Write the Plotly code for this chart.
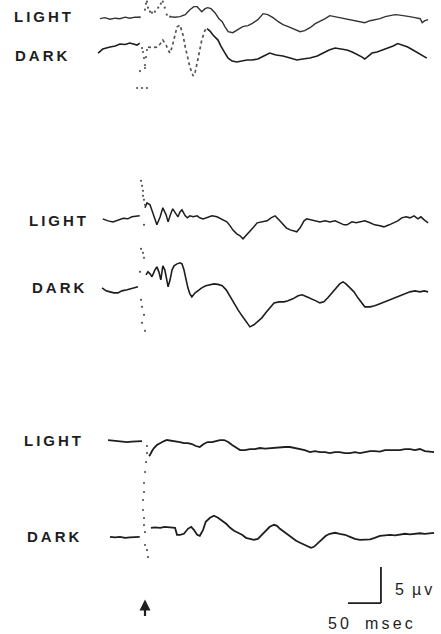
import plotly.graph_objects as go

# ---------------- DATA (time in msec from stimulus, amplitude in µV from baseline) ----------------
TOP_LIGHT_T = [-68, -61, -53, -45, -38, -30, -23, -15, -8,
               38, 45, 53, 61, 68, 74, 79, 83, 86, 91, 95, 100, 106, 112, 117, 121, 126, 133, 141, 148,
               156, 162, 171, 179, 186, 194, 202, 209, 217, 224, 235, 242, 250, 258, 265, 273, 280, 288,
               295, 303, 311, 318, 326, 333, 341, 348, 356, 364, 371, 379, 386, 394, 401, 409, 417, 420,
               424, 429]
TOP_LIGHT_UV = [-0.14, 0.0, -0.21, -0.07, -0.14, 0.07, -0.07, 0.07, 0.07,
                0.14, 0.07, 0.14, 0.42, 1.11, 1.53, 1.53, 1.11, 0.83, 1.25, 1.39, 1.25, 0.69, -0.14, -0.56,
                -1.25, -1.94, -2.08, -1.67, -1.25, -1.11, -0.83, -0.28, 0.56, 0.42, 0.0, -0.56, -0.97,
                -1.25, -1.53, -1.94, -1.81, -1.39, -0.83, -0.56, -0.14, 0.28, 0.14, 0.0, -0.14, -0.28,
                -0.42, -0.56, -0.69, -0.42, -0.28, -0.14, 0.14, 0.28, 0.42, 0.35, 0.28, 0.14, 0.0, -0.14,
                -0.69, -0.42, -0.28]
TOP_LIGHT_ART_T = [-8, 0, 1.5, 3, 4.5, 7.6, 10.6, 15, 20, 24, 27, 30, 33, 38]
TOP_LIGHT_ART_UV = [0.07, 1.11, 1.94, 2.22, 1.39, 0.83, 0.69, 0.83, 1.39, 1.94, 2.22, 1.39, 0.42, 0.14]

TOP_DARK_T = [-71, -64, -53, -45, -38, -30, -23, -15, -12, -8,
              4.5, 10.6, 18, 23, 27, 32, 35, 38, 41, 44, 48.5, 53, 57.6, 61, 65, 68, 73, 76, 79, 83, 86,
              91, 94, 98.5, 103, 107.6, 110.6, 115, 118, 123, 126, 132, 139, 147, 154.5, 162, 171, 180,
              189, 198.5, 209, 220, 230, 239, 250, 261, 270, 279, 288, 297, 306, 314, 321, 329, 333, 338,
              344, 351.5, 361, 368, 376, 383, 391, 398, 406, 414, 421, 427]
TOP_DARK_UV = [-1.11, -0.56, -0.28, -0.14, 0.14, 0.07, 0.28, 0.14, 0.0, 0.28,
               -0.28, -0.35, -0.28, 0.14, 0.69, 0.0, -0.69, -1.11, -0.28, 0.97, 2.5, 2.78, 1.39, -0.28,
               -1.81, -3.06, -4.3, -3.75, -2.5, -0.69, 0.69, 2.08, 2.29, 1.94, 1.39, 0.97, 0.69, -0.14,
               -0.69, -1.39, -1.81, -2.22, -2.36, -2.22, -2.08, -2.08, -1.94, -1.53, -1.11, -1.39, -1.53,
               -1.81, -2.08, -1.94, -1.81, -1.53, -1.11, -0.69, -0.42, -0.56, -0.69, -0.97, -1.25, -1.67,
               -1.94, -1.53, -1.11, -0.97, -0.69, -0.42, -0.14, 0.21, 0.0, -0.28, -0.69, -1.11, -1.53,
               -1.81]
TOP_DARK_ART_T = [-4.5, -3, -1.5, 0, 1.5, 3, -7.6, 0, -12, -4.5, 3]
TOP_DARK_ART_UV = [-0.42, -0.97, -1.81, -2.78, -1.67, -0.69, -3.61, -3.19, -5.97, -5.97, -5.97]

MID_LIGHT_T = [-64, -56, -48.5, -41, -33, -26, -20, -14, -8,
               0, 3, 7.6, 12, 18, 23, 27, 32, 35, 39, 42, 47, 50, 53, 56, 61, 64, 68, 73, 79, 83, 88, 94,
               101.5, 109, 117, 124, 129, 133, 139, 144, 148.5, 153, 159, 165, 170, 177, 185, 191, 197,
               201.5, 207.6, 214, 220, 226, 230, 235, 241, 245, 251.5, 259, 265, 273, 280, 288, 295,
               301.5, 306, 313.6, 320, 326, 333, 341, 348, 356, 362, 370, 376, 383, 389, 395.5, 401.5,
               407.6, 413.6, 418, 423, 429]
MID_LIGHT_UV = [-0.14, -0.42, -0.56, -0.28, -0.07, -0.14, 0.14, 0.21, 0.28,
                1.39, 2.08, 1.81, 0.56, -0.97, 0.14, 1.39, 0.42, -0.56, 0.56, 1.25, 0.56, 0.14, 0.83,
                1.11, 0.28, 0.0, 0.28, 0.14, 0.28, 0.0, -0.14, 0.0, 0.28, 0.14, -0.28, -0.56, -1.11,
                -1.67, -2.22, -2.5, -2.92, -2.5, -1.94, -1.25, -0.69, -0.56, -0.42, 0.0, 0.28, -0.14,
                -0.69, -1.39, -1.67, -1.81, -1.94, -1.39, -0.42, -0.14, -0.28, -0.42, -0.56, -0.42,
                -0.56, -0.42, -0.69, -0.97, -0.97, -0.56, -0.69, -0.56, -0.42, -0.69, -0.97, -1.11,
                -1.25, -0.97, -0.69, -0.42, 0.0, 0.14, 0.0, 0.28, -0.14, 0.14, -0.28, -0.69]
MID_LIGHT_ART_T = [-6, -4.5, -3, -3, -1.5, 0, -1.5]
MID_LIGHT_ART_UV = [5.14, 4.44, 3.75, 3.06, 2.5, 1.81, -0.97]

MID_DARK_T = [-65, -59, -53, -47, -41, -35, -27, -21, -15, -10.6,
              1.5, 4.5, 7.6, 10.6, 15, 18, 21, 24, 27, 30, 33, 35, 38, 41, 44, 48.5, 53, 56, 59, 62, 65,
              68, 71, 76, 80, 86, 92, 98.5, 104.5, 110.6, 117, 123, 129, 135, 141, 147, 153, 159, 165,
              171, 177, 183, 189, 195.5, 203, 210.6, 216.6, 224, 232, 238, 245, 253, 259, 265, 271, 277,
              283, 289, 295, 300, 304.5, 310.6, 316.6, 322.6, 329, 333, 341, 348, 356, 363.6, 371, 379,
              386, 394, 401.5, 409, 416.6, 423, 429]
MID_DARK_UV = [0.28, -0.14, -0.28, -0.42, -0.42, -0.14, 0.0, 0.14, 0.28, 0.42,
               2.08, 2.5, 2.22, 1.81, 2.78, 3.19, 2.5, 1.39, 3.33, 2.78, 1.39, 0.42, 1.39, 2.78, 3.33,
               3.61, 3.75, 3.61, 2.78, 1.39, 0.28, -0.56, -0.97, -0.42, -0.14, 0.28, 0.56, 0.69, 0.83,
               0.76, 0.56, 0.0, -0.97, -1.94, -2.78, -3.61, -4.44, -5.14, -4.86, -4.44, -3.89, -3.19,
               -2.5, -1.81, -1.67, -1.67, -1.53, -1.25, -0.83, -0.69, -0.97, -1.25, -1.53, -1.81, -1.67,
               -1.11, -0.42, 0.14, 0.83, 1.11, 0.83, 0.28, -0.28, -1.11, -1.94, -2.36, -2.36, -2.22,
               -1.94, -1.67, -1.39, -1.11, -0.83, -0.56, -0.28, -0.14, -0.28, -0.14, -0.28]
MID_DARK_ART_T = [-6, -3, -1.5, -7.6, -6, -4.5, -1.5, -4.5, 0]
MID_DARK_ART_UV = [5.69, 5.14, 4.44, 2.5, -1.39, -2.36, -3.47, -4.58, -5.69]

BOT_LIGHT_T = [-56, -48.5, -41, -33, -27, -20, -12, -4.5,
               6, 7.6, 10.6, 13.6, 18, 23, 29, 33, 39, 45.5, 53, 59, 65, 71, 77, 83, 89, 95, 101.5,
               107.6, 113.6, 120, 126, 132, 138, 144, 151.5, 159, 166.6, 174, 182, 189, 197, 204.5, 212,
               219.7, 227, 235, 242, 250, 257.5, 265, 273, 280, 288, 295, 303, 310.6, 318, 325.7, 333,
               341, 348, 356, 363.6, 371, 379, 386, 394, 401.5, 409, 416.6, 424, 432, 438]
BOT_LIGHT_UV = [0.14, 0.07, 0.0, 0.0, -0.14, -0.07, 0.0, 0.0,
                -2.08, -1.94, -1.39, -0.97, -0.56, -0.28, 0.0, 0.14, 0.07, 0.0, -0.14, -0.28, -0.28,
                -0.42, -0.69, -0.83, -0.42, -0.14, -0.14, 0.0, 0.14, 0.14, -0.14, -0.56, -0.97, -1.25,
                -1.25, -1.11, -1.11, -0.97, -1.04, -0.97, -0.97, -0.9, -0.83, -0.83, -0.97, -1.11,
                -1.25, -1.53, -1.39, -1.53, -1.53, -1.67, -1.53, -1.53, -1.67, -1.67, -1.53, -1.67,
                -1.53, -1.39, -1.39, -1.46, -1.25, -1.25, -1.32, -1.25, -1.11, -1.11, -1.25, -1.11,
                -1.39, -1.53, -1.53]
BOT_ART_T = [3, 3, 1.5, 0, -1.5, -1.5, -3, -3, -1.5, -1.5, 0, 0, 3, 4.5]
BOT_ART_UV = [-0.69, -1.67, -2.92, -4.3, -5.83, -7.08, -8.19, -9.58, -10.69, -11.67, -12.64,
              -14.44, -15.14, -16.11]

BOT_DARK_T = [-53, -45.5, -38, -30, -23, -15, -8,
              9, 15, 23, 30, 38, 45.5, 48.5, 53, 59, 65, 70, 74, 79, 83, 88, 92, 98.5, 104.5, 110.6,
              117, 123, 129, 135, 141, 147, 153, 159, 165, 171, 177, 183, 189, 195.5, 200, 204.5, 210.6,
              216.6, 222.7, 229, 235, 241, 247, 251.5, 256, 262, 268, 274, 280, 288, 295, 303, 310.6,
              318, 325.7, 333, 341, 348, 356, 363.6, 371, 379, 386, 394, 401.5, 409, 416.6, 424, 432,
              438]
BOT_DARK_UV = [0.0, -0.07, 0.0, -0.14, -0.07, 0.0, 0.0,
               1.25, 1.32, 1.25, 1.39, 1.32, 1.25, 0.28, 0.28, 0.42, 1.11, 1.39, 0.97, 0.28, 0.14, 0.97,
               2.08, 2.64, 2.92, 2.64, 2.22, 1.81, 1.25, 0.83, 0.56, 0.28, -0.14, -0.28, -0.42, -0.28,
               0.28, 0.97, 1.39, 1.67, 1.53, 1.11, 0.69, 0.28, -0.14, -0.56, -0.83, -1.11, -1.39, -1.53,
               -1.39, -0.83, -0.28, 0.14, 0.42, 0.56, 0.42, 0.28, 0.0, -0.28, -0.42, -0.42, -0.35,
               -0.14, 0.14, 0.21, 0.28, 0.21, 0.28, 0.42, 0.35, 0.42, 0.49, 0.42, 0.56, 0.56]

LABELS = ["LIGHT", "DARK"]
SCALE_MS = 50
SCALE_UV = 5

# ---------------- LAYOUT / STYLE ----------------
W, H = 441, 634
PX_PER_MS = 0.66
PX_PER_UV = 7.2
STIM_PX = 145
X_RANGE = [-STIM_PX / PX_PER_MS, (W - STIM_PX) / PX_PER_MS]
Y_RANGE = [0, H / PX_PER_UV]

# vertical baseline of each trace on the page (µV from bottom)
OFFSETS = {"tl": 85.6, "td": 81.8, "ml": 57.8, "md": 47.8, "bl": 26.8, "bd": 13.5}
INK = "#1e1e1e"
DOT = "#555555"
FONT = "Liberation Sans, Arial, sans-serif"

fig = go.Figure()


def add_line(t, v, off, width=1.6, color=INK, dash="solid"):
    fig.add_trace(go.Scatter(x=t, y=[a + off for a in v], mode="lines",
                             line=dict(color=color, width=width, dash=dash), hoverinfo="skip",
                             showlegend=False))


def add_dots(t, v, off, size=2.2, color=DOT):
    fig.add_trace(go.Scatter(x=t, y=[a + off for a in v], mode="markers",
                             marker=dict(color=color, size=size), hoverinfo="skip",
                             showlegend=False))


# top pair
add_line(TOP_LIGHT_T[:9], TOP_LIGHT_UV[:9], OFFSETS["tl"], 1.4, "#333")
add_line(TOP_LIGHT_T[9:], TOP_LIGHT_UV[9:], OFFSETS["tl"], 1.4, "#333")
add_dots(TOP_LIGHT_ART_T, TOP_LIGHT_ART_UV, OFFSETS["tl"])
add_line(TOP_DARK_T[:10], TOP_DARK_UV[:10], OFFSETS["td"], 1.6)
add_line(TOP_DARK_T[10:33], TOP_DARK_UV[10:33], OFFSETS["td"], 1.7, "#555", "dot")
add_line(TOP_DARK_T[32:], TOP_DARK_UV[32:], OFFSETS["td"], 1.6)
add_dots(TOP_DARK_ART_T, TOP_DARK_ART_UV, OFFSETS["td"])

# middle pair
add_line(MID_LIGHT_T[:9], MID_LIGHT_UV[:9], OFFSETS["ml"], 1.5)
add_line(MID_LIGHT_T[9:], MID_LIGHT_UV[9:], OFFSETS["ml"], 1.5)
add_dots(MID_LIGHT_ART_T, MID_LIGHT_ART_UV, OFFSETS["ml"])
add_line(MID_DARK_T[:10], MID_DARK_UV[:10], OFFSETS["md"], 1.6)
add_line(MID_DARK_T[10:], MID_DARK_UV[10:], OFFSETS["md"], 1.6)
add_dots(MID_DARK_ART_T, MID_DARK_ART_UV, OFFSETS["md"])

# bottom pair
add_line(BOT_LIGHT_T[:8], BOT_LIGHT_UV[:8], OFFSETS["bl"], 1.8)
add_line(BOT_LIGHT_T[8:], BOT_LIGHT_UV[8:], OFFSETS["bl"], 1.8)
add_dots(BOT_ART_T, BOT_ART_UV, OFFSETS["bl"])
add_line(BOT_DARK_T[:7], BOT_DARK_UV[:7], OFFSETS["bd"], 1.8)
add_line(BOT_DARK_T[7:], BOT_DARK_UV[7:], OFFSETS["bd"], 1.8)


# labels
def spaced(s):
    return "\u2009".join(s)


label_pos = [(-201.5, 85.7, 0), (-200, 80.3, 1), (-178.8, 57.5, 0),
             (-174, 48.1, 1), (-186, 26.9, 0), (-182, 13.5, 1)]
annotations = []
for x, y, i in label_pos:
    annotations.append(dict(x=x, y=y, xref="x", yref="y", text="<b>" + spaced(LABELS[i]) + "</b>",
                            showarrow=False, xanchor="left", yanchor="middle",
                            font=dict(family=FONT, size=15, color=INK)))

# scale bar
corner_t = 357.5
corner_v = 4.3
fig.add_shape(type="line", x0=corner_t - SCALE_MS, x1=corner_t, y0=corner_v, y1=corner_v,
              line=dict(color=INK, width=1.8))
fig.add_shape(type="line", x0=corner_t, x1=corner_t, y0=corner_v, y1=corner_v + SCALE_UV,
              line=dict(color=INK, width=1.8))
annotations.append(dict(x=corner_t + 19, y=corner_v + 1.9, xref="x", yref="y",
                        text=f"{SCALE_UV}\u2002µ\u2009v", showarrow=False, xanchor="left",
                        yanchor="middle", font=dict(family=FONT, size=16, color=INK)))
annotations.append(dict(x=corner_t - 16, y=1.5, xref="x", yref="y",
                        text=spaced(str(SCALE_MS)) + "\u2003" + spaced("msec"), showarrow=False,
                        xanchor="center", yanchor="middle", font=dict(family=FONT, size=16, color=INK)))
# stimulus arrow
annotations.append(dict(x=0, y=4.8, ax=0, ay=2.3, xref="x", yref="y", axref="x", ayref="y",
                        text="", showarrow=True, arrowhead=2, arrowsize=1, arrowwidth=2.2,
                        arrowcolor=INK))

fig.update_layout(
    width=W, height=H, margin=dict(l=0, r=0, t=0, b=0),
    paper_bgcolor="white", plot_bgcolor="white",
    xaxis=dict(range=X_RANGE, visible=False, fixedrange=True),
    yaxis=dict(range=Y_RANGE, visible=False, fixedrange=True),
    annotations=annotations, showlegend=False,
)

fig.write_html("out.html", config={"displayModeBar": False},
               post_script="document.body.style.margin='0';document.body.style.overflow='hidden';")
